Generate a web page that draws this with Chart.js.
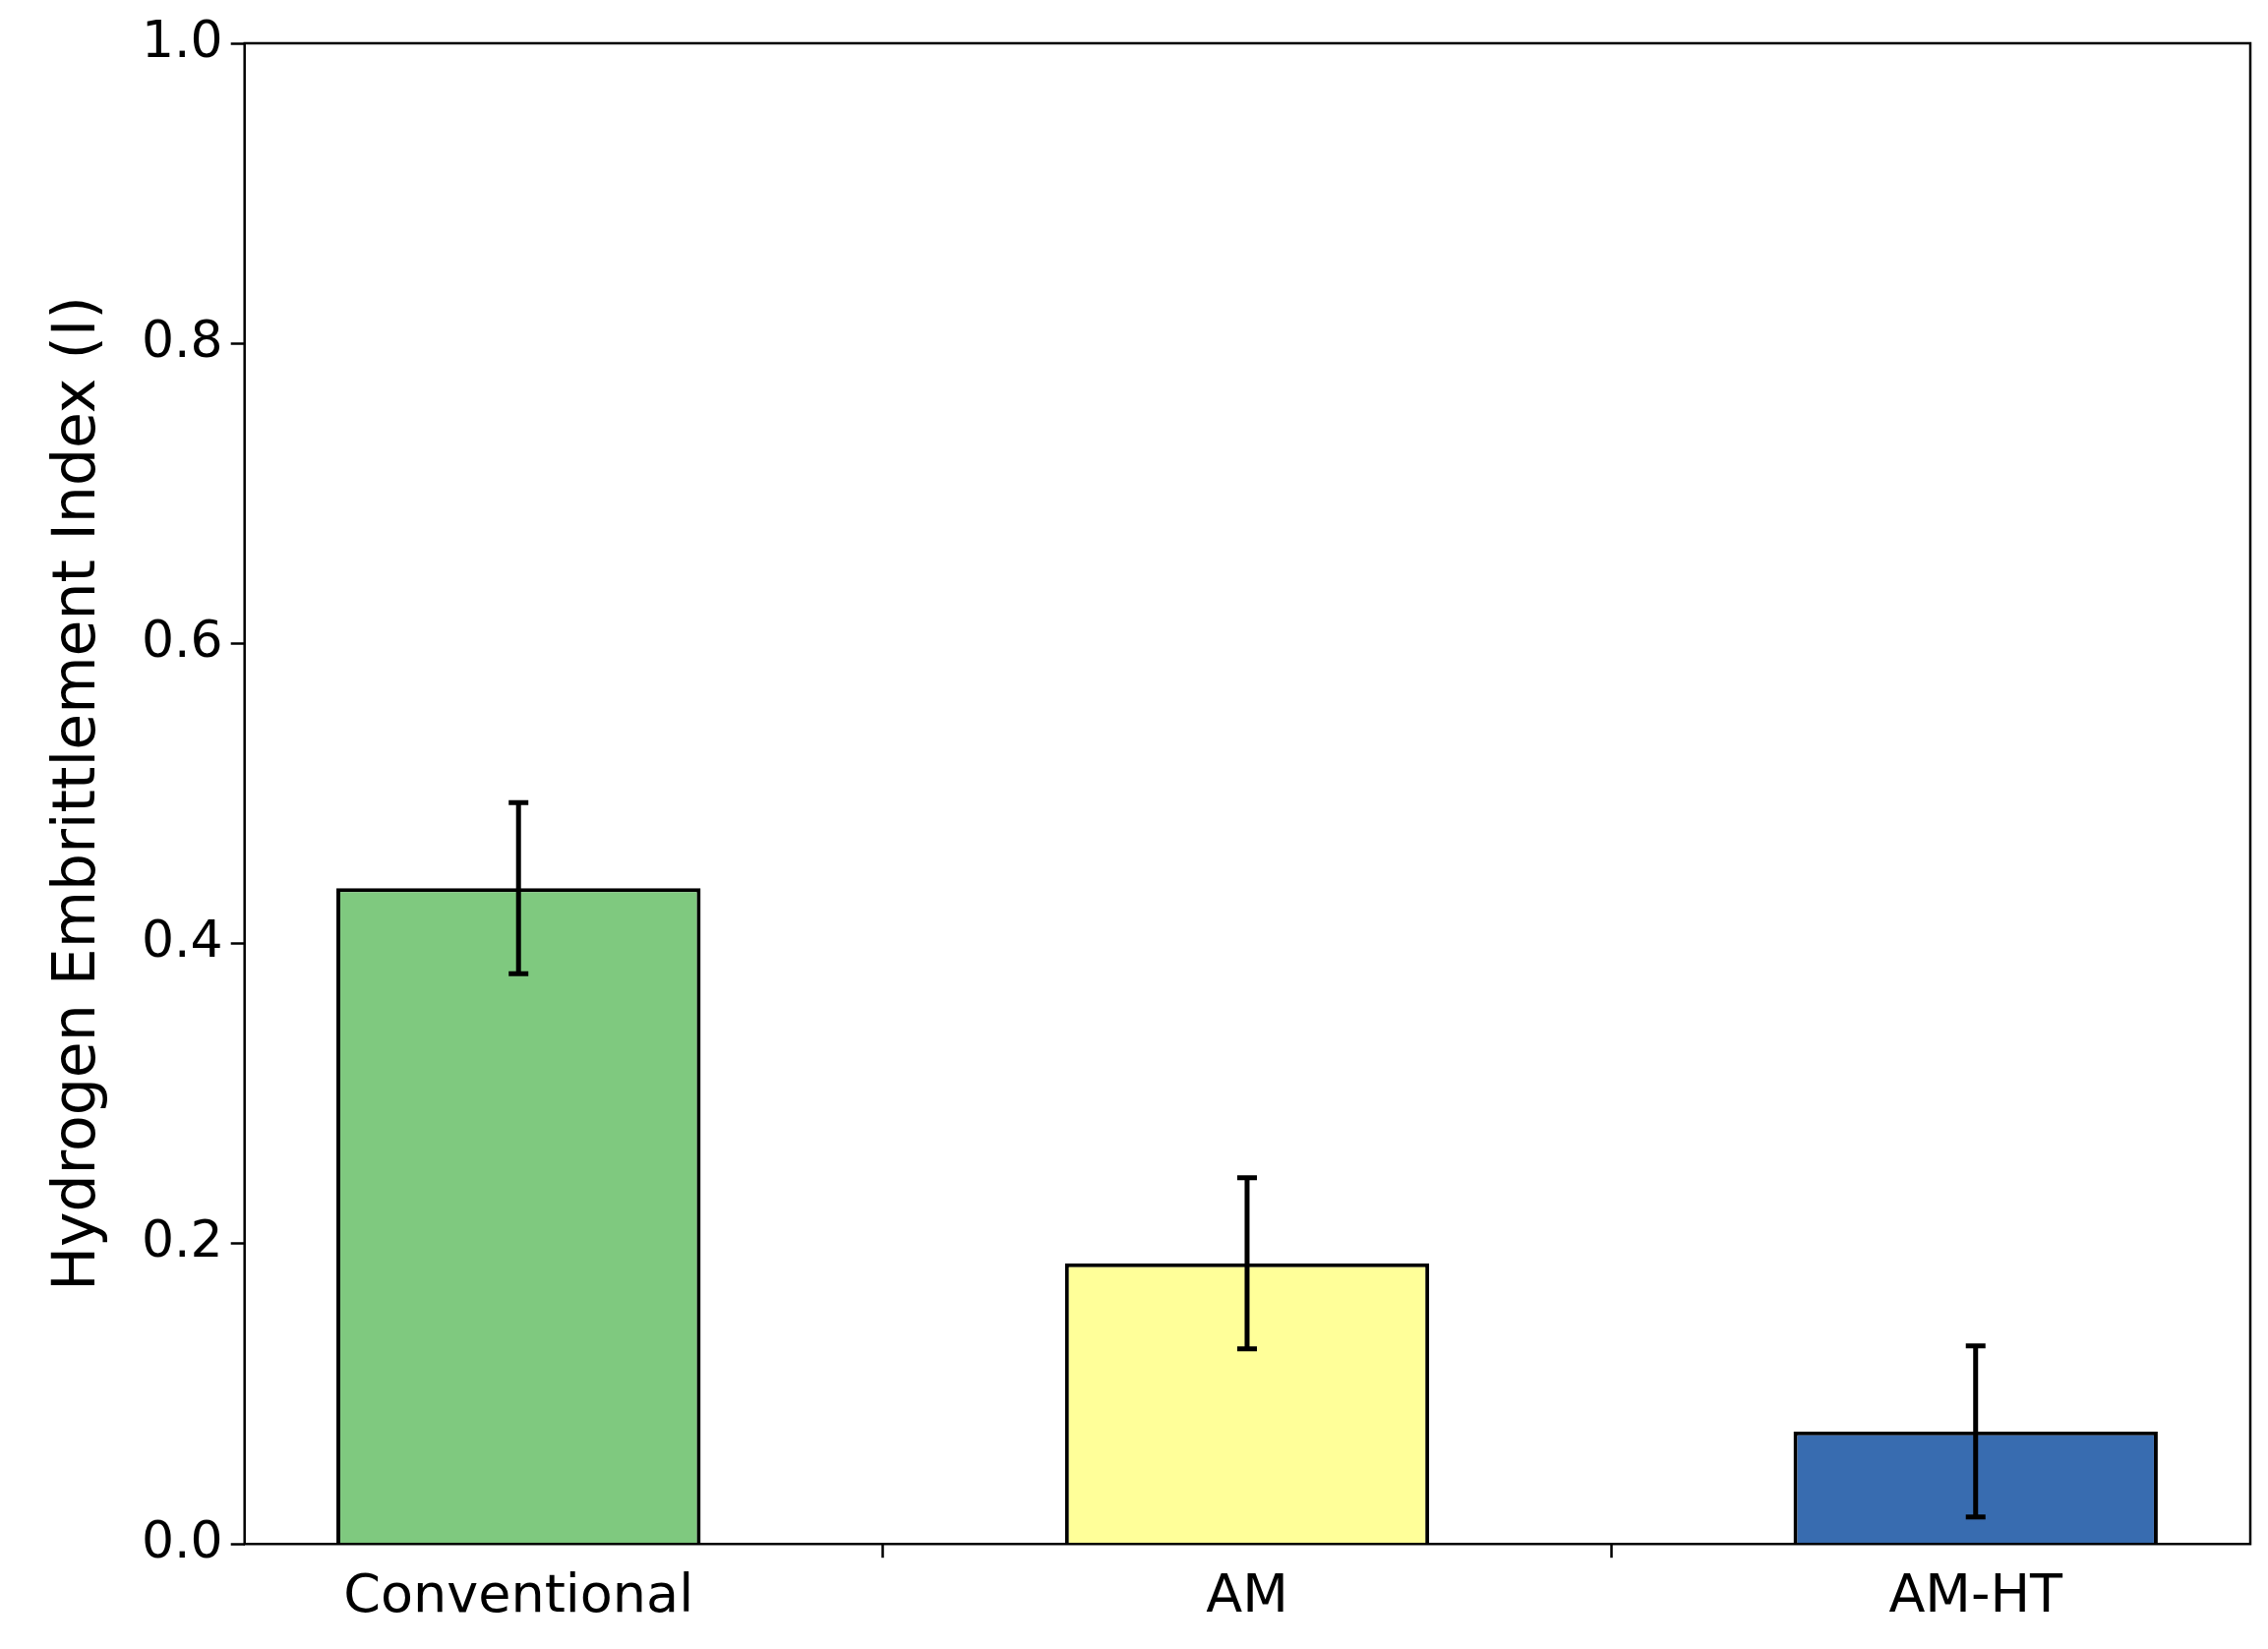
<!DOCTYPE html>
<html>
<head>
<meta charset="utf-8">
<script src="https://cdn.jsdelivr.net/npm/chart.js@4"></script>
<style>
  html, body { margin: 0; padding: 0; background: #fff; }
  #wrap { width: 2306px; height: 1677px; }
</style>
</head>
<body>
<div id="wrap"><canvas id="chart"></canvas></div>
<script>
const categories = ['Conventional', 'AM', 'AM-HT'];
const values = [0.437, 0.187, 0.075];
const errors = [0.057, 0.057, 0.057];
const barColors = ['#7fc97f', '#ffff99', '#386cb0'];
const yTicks = [0, 0.2, 0.4, 0.6, 0.8, 1.0];

// error bars + frame box
const extras = {
    id: 'extras',
    afterDatasetsDraw(chart) {
        const { ctx, scales: { x, y }, chartArea: a } = chart;
        ctx.save();
        ctx.strokeStyle = '#000';
        ctx.lineWidth = 5;
        values.forEach((v, i) => {
            const px = x.getPixelForValue(i);
            const top = y.getPixelForValue(v + errors[i]);
            const bot = y.getPixelForValue(v - errors[i]);
            ctx.beginPath();
            ctx.moveTo(px, top); ctx.lineTo(px, bot);
            ctx.moveTo(px - 10, top); ctx.lineTo(px + 10, top);
            ctx.moveTo(px - 10, bot); ctx.lineTo(px + 10, bot);
            ctx.stroke();
        });
        ctx.lineWidth = 2.5;
        ctx.strokeRect(a.left, a.top, a.right - a.left, a.bottom - a.top);
        ctx.restore();
    }
};

new Chart(document.getElementById('chart'), {
    type: 'bar',
    data: {
        datasets: [{
            data: values.map((v, i) => ({ x: i, y: v })),
            backgroundColor: barColors,
            borderColor: '#000',
            borderWidth: 4,
            categoryPercentage: 1,
            barPercentage: 0.5
        }]
    },
    options: {
        responsive: true,
        maintainAspectRatio: false,
        animation: false,
        layout: { padding: { top: 44, right: 18, bottom: 12, left: 40 } },
        plugins: { legend: { display: false }, tooltip: { enabled: false } },
        scales: {
            x: {
                type: 'linear',
                offset: false,
                min: -0.376,
                max: 2.377,
                afterBuildTicks: s => { s.ticks = categories.map((c, i) => ({ value: i })); },
                ticks: {
                    callback: v => categories[v],
                    color: '#000',
                    font: { family: 'DejaVu Sans', size: 54 },
                    padding: 8
                },
                grid: { drawOnChartArea: false, tickLength: 14, tickWidth: 2.5, color: '#000' },
                border: { display: false }
            },
            y: {
                min: 0,
                max: 1,
                afterBuildTicks: s => { s.ticks = yTicks.map(v => ({ value: v })); },
                ticks: {
                    callback: v => v.toFixed(1),
                    color: '#000',
                    font: { family: 'DejaVu Sans', size: 52 },
                    padding: 8
                },
                title: {
                    display: true,
                    text: 'Hydrogen Embrittlement Index (I)',
                    color: '#000',
                    font: { family: 'DejaVu Sans', size: 60 },
                    padding: { bottom: 20 }
                },
                grid: { drawOnChartArea: false, tickLength: 14, tickWidth: 2.5, color: '#000' },
                border: { display: false }
            }
        }
    },
    plugins: [extras]
});
</script>
</body>
</html>
